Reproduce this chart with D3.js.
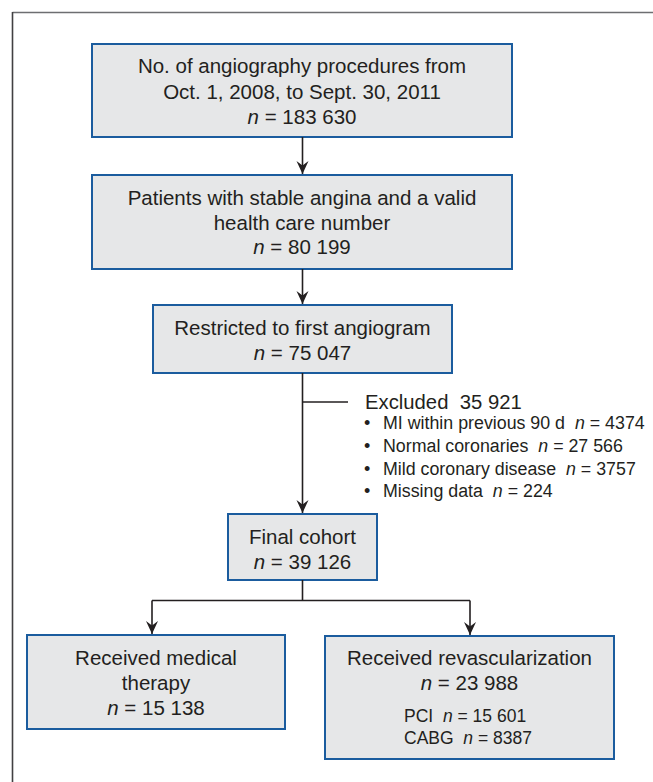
<!DOCTYPE html>
<html lang="en">
<head>
<meta charset="UTF-8">
<title>Cohort flow</title>
<script src="https://cdn.jsdelivr.net/npm/d3@7"></script>
<style>
  body { margin: 0; background: #fff; }
  text { font-family: "Liberation Sans", Arial, Helvetica, sans-serif; fill: #231f20; }
</style>
</head>
<body>
<script>
// stage boxes, top to bottom
const stageLabels = [
  ["No. of angiography procedures from", "Oct. 1, 2008, to Sept. 30, 2011"],
  ["Patients with stable angina and a valid", "health care number"],
  ["Restricted to first angiogram"],
  ["Final cohort"]
];
const stageCounts = [183630, 80199, 75047, 39126];

// exclusions between first angiogram and final cohort
const excludedTotal = 35921;
const exclusionReasons = ["MI within previous 90 d", "Normal coronaries", "Mild coronary disease", "Missing data"];
const exclusionCounts = [4374, 27566, 3757, 224];

// the two treatment groups
const groupLabels = [["Received medical", "therapy"], ["Received revascularization"]];
const groupCounts = [15138, 23988];
const subLabels = ["PCI", "CABG"];
const subCounts = [15601, 8387];

// CMAJ style: space for thousands only from 5 digits up
const fmt = v => v >= 10000 ? d3.format(",")(v).replace(/,/g, " ") : String(v);

const width = 653, height = 782;
const svg = d3.select("body").append("svg")
  .attr("width", width).attr("height", height);

// layout of the boxes
const boxes = [
  {x: 92, y: 44, w: 420, h: 93, lines: [66, 91.5, 117]},
  {x: 92, y: 175, w: 420, h: 94, lines: [198, 223, 247]},
  {x: 153, y: 305, w: 299, h: 68, lines: [328, 353]},
  {x: 228, y: 514, w: 149, h: 66, lines: [537, 562]}
];
const groupBoxes = [
  {x: 27, y: 635, w: 258, h: 94, lines: [658, 683, 708]},
  {x: 325, y: 636, w: 289, h: 123, lines: [658, 683]}
];

const defs = svg.append("defs");
defs.append("marker")
  .attr("id", "head")
  .attr("viewBox", "-14 -7 15 14")
  .attr("refX", 0).attr("refY", 0)
  .attr("markerUnits", "userSpaceOnUse")
  .attr("markerWidth", 15).attr("markerHeight", 14)
  .attr("orient", "auto")
  .append("path")
  .attr("d", "M0,0 L-13,-6 L-8.5,0 L-13,6 Z")
  .attr("fill", "#231f20");

// outer frame (only top and left edges are visible)
svg.append("line").attr("x1", 12.5).attr("y1", 12.5).attr("x2", width).attr("y2", 12.5)
  .attr("stroke", "#6d6e71").attr("stroke-width", 1.6);
svg.append("line").attr("x1", 12.5).attr("y1", 12).attr("x2", 12.5).attr("y2", height)
  .attr("stroke", "#414042").attr("stroke-width", 1.6);

function drawBox(b) {
  svg.append("rect")
    .attr("x", b.x).attr("y", b.y).attr("width", b.w).attr("height", b.h)
    .attr("fill", "#e6e7e8").attr("stroke", "#1b5c9e").attr("stroke-width", 2);
}

function countLine(sel, v) {
  sel.append("tspan").attr("font-style", "italic").text("n");
  sel.append("tspan").text(" = " + fmt(v));
}

function centredText(b, labels, count) {
  const cx = b.x + b.w / 2;
  labels.forEach((l, i) => {
    svg.append("text").attr("x", cx).attr("y", b.lines[i]).attr("dy", "0.35em")
      .attr("text-anchor", "middle").attr("font-size", 20.5).text(l);
  });
  const t = svg.append("text").attr("x", cx).attr("y", b.lines[labels.length]).attr("dy", "0.35em")
    .attr("text-anchor", "middle").attr("font-size", 20.5);
  countLine(t, count);
}

boxes.forEach((b, i) => { drawBox(b); centredText(b, stageLabels[i], stageCounts[i]); });
groupBoxes.forEach((b, i) => { drawBox(b); centredText(b, groupLabels[i], groupCounts[i]); });

// PCI / CABG breakdown
const subY = d3.scalePoint().domain(subLabels).range([716, 738]);
subLabels.forEach((s, i) => {
  const t = svg.append("text").attr("x", 404).attr("y", subY(s)).attr("dy", "0.35em")
    .attr("font-size", 17.5);
  t.append("tspan").text(s + "\u00a0\u00a0");
  countLine(t, subCounts[i]);
});

// connectors
const ink = {stroke: "#231f20", "stroke-width": 1.6, fill: "none"};
function link(d, arrow) {
  const p = svg.append("path").attr("d", d);
  Object.entries(ink).forEach(([k, v]) => p.attr(k, v));
  if (arrow) p.attr("marker-end", "url(#head)");
}
const cx = 302.5;
for (let i = 0; i < boxes.length - 1; i++) {
  link(`M${cx},${boxes[i].y + boxes[i].h} V${boxes[i + 1].y - 1}`, true);
}
// exclusion branch
const exY = 402;
link(`M${cx},${exY} H348`, false);

svg.append("text").attr("x", 365).attr("y", exY).attr("dy", "0.35em")
  .attr("font-size", 20.3).text("Excluded\u00a0\u00a0" + fmt(excludedTotal));

const reasonY = d3.scalePoint().domain(exclusionReasons).range([423, 491]);
const reasonTexts = [];
exclusionReasons.forEach((r, i) => {
  svg.append("text").attr("x", 364).attr("y", reasonY(r)).attr("dy", "0.35em")
    .attr("font-size", 18).text("\u2022");
  const t = svg.append("text").attr("x", 383).attr("y", reasonY(r)).attr("dy", "0.35em")
    .attr("font-size", 18);
  t.append("tspan").text(r + "\u00a0\u00a0");
  countLine(t, exclusionCounts[i]);
  reasonTexts.push(t);
});
// keep the widest reason inside the frame (ends near x = 645)
const widest = d3.max(reasonTexts, t => t.node().getComputedTextLength());
if (widest > 262) reasonTexts.forEach(t => t.attr("font-size", 18 * 262 / widest));

// split into the two groups
const fin = boxes[3];
const splitY = 600.5;
link(`M${cx},${fin.y + fin.h} V${splitY}`, false);
const leftX = 152, rightX = 470;
link(`M${leftX},${splitY} H${rightX}`, false);
link(`M${leftX},${splitY} V${groupBoxes[0].y - 1}`, true);
link(`M${rightX},${splitY} V${groupBoxes[1].y - 1}`, true);
</script>
</body>
</html>
